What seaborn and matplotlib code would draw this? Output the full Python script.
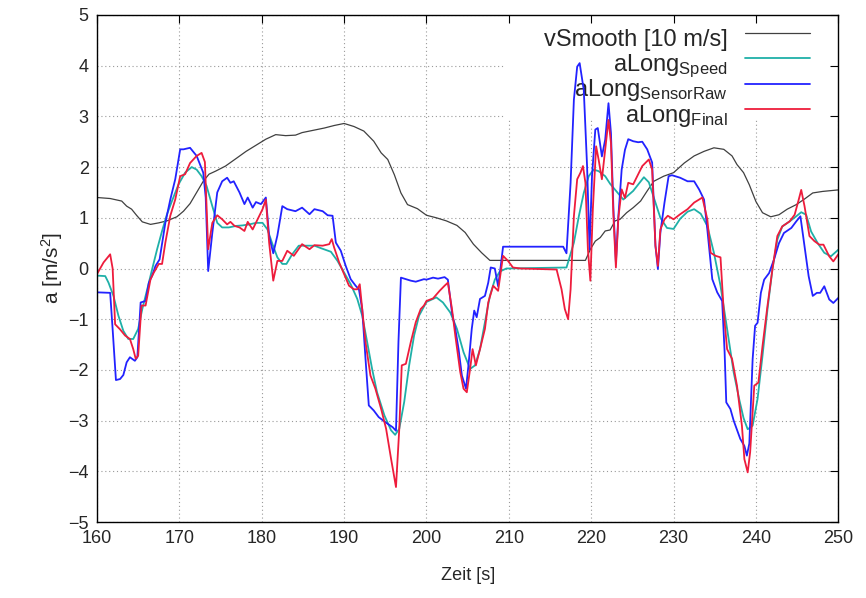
import pandas as pd
import matplotlib
matplotlib.use("Agg")
import matplotlib.pyplot as plt
from matplotlib.patches import Polygon
import seaborn as sns

# ------------- Data -------------
t_vsmooth = [160, 161.6, 163.0, 163.6, 164.2, 164.8, 165.5, 166.5, 167.5, 168.5, 169.7, 170.5,
             171.3, 172.1, 172.9, 173.6, 174.4, 175.6, 176.9, 178.1, 179.3, 180.5, 181.7, 182.9,
             184.1, 184.9, 186.4, 187.6, 188.8, 190.0, 191.2, 192.4, 193.6, 194.5, 195.3, 196.1,
             196.9, 197.7, 198.9, 200.0, 201.2, 202.4, 203.7, 204.7, 205.7, 206.7, 207.7, 219.3,
             219.9, 220.5, 221.1, 221.7, 222.3, 222.9, 223.5, 224.3, 225.1, 226.0, 226.8, 227.6,
             228.8, 230.0, 231.3, 232.5, 233.7, 234.9, 236.1, 237.1, 237.7, 238.5, 239.2, 240.0,
             240.8, 241.8, 242.8, 243.8, 244.9, 245.9, 246.9, 248.1, 250.0]
v_smooth = [1.40, 1.38, 1.33, 1.23, 1.17, 1.05, 0.92, 0.87, 0.90, 0.94, 1.02, 1.13,
            1.28, 1.50, 1.72, 1.86, 1.92, 2.02, 2.17, 2.31, 2.43, 2.55, 2.64, 2.62,
            2.63, 2.68, 2.73, 2.77, 2.82, 2.86, 2.80, 2.71, 2.51, 2.28, 2.15, 1.85,
            1.49, 1.26, 1.18, 1.05, 1.00, 0.94, 0.85, 0.71, 0.48, 0.31, 0.16, 0.16,
            0.38, 0.54, 0.61, 0.74, 0.76, 0.94, 0.97, 1.10, 1.20, 1.33, 1.53, 1.72,
            1.82, 1.89, 2.08, 2.22, 2.31, 2.38, 2.35, 2.22, 2.05, 1.89, 1.65, 1.32,
            1.10, 1.02, 1.06, 1.17, 1.26, 1.37, 1.49, 1.52, 1.55]

t_speed = [160, 161.0, 161.4, 162.0, 162.6, 163.2, 163.8, 164.4, 165.0, 165.5, 166.1, 166.7,
           167.3, 167.9, 168.5, 169.1, 169.9, 170.7, 171.5, 172.1, 172.7, 173.3, 174.0, 174.6,
           175.2, 176.0, 176.9, 177.7, 178.5, 179.3, 180.1, 180.7, 181.3, 181.9, 182.5, 183.0,
           183.7, 184.5, 185.4, 186.4, 187.2, 188.4, 189.2, 190.0, 190.8, 191.6, 192.2, 192.8,
           193.4, 194.0, 194.9, 195.7, 196.2, 196.7, 197.3, 197.9, 198.5, 199.1, 199.7, 200.0,
           201.2, 202.0, 202.9, 203.7, 204.5, 205.3, 205.9, 206.5, 207.1, 207.7, 208.3, 208.9,
           209.7, 217.0, 217.3, 217.9, 218.5, 219.1, 219.7, 220.3, 220.9, 221.7, 222.3, 223.9,
           225.1, 226.4, 227.0, 227.6, 228.4, 229.2, 230.0, 230.8, 231.7, 232.5, 233.3, 234.1,
           234.9, 235.7, 236.5, 237.3, 238.0, 238.5, 239.0, 239.6, 240.2, 240.8, 241.4, 242.0,
           242.6, 243.2, 244.1, 244.9, 245.5, 246.1, 246.7, 247.5, 248.3, 249.1, 250.0]
a_speed = [-0.14, -0.15, -0.28, -0.54, -0.93, -1.23, -1.39, -1.39, -1.19, -0.80, -0.41, -0.01,
           0.38, 0.74, 1.07, 1.33, 1.66, 1.89, 2.00, 1.95, 1.82, 1.63, 1.23, 0.90,
           0.81, 0.81, 0.84, 0.85, 0.87, 0.90, 0.90, 0.77, 0.48, 0.22, 0.09, 0.09,
           0.28, 0.45, 0.45, 0.45, 0.40, 0.33, 0.15, -0.08, -0.31, -0.60, -0.93, -1.45,
           -1.98, -2.44, -2.90, -3.19, -3.28, -3.16, -2.63, -1.91, -1.32, -0.93, -0.75, -0.66,
           -0.57, -0.67, -0.87, -1.19, -1.65, -1.98, -1.91, -1.59, -1.06, -0.54, -0.22, -0.06,
           0.0, 0.02, 0.18, 0.51, 1.03, 1.49, 1.82, 1.95, 1.92, 1.82, 1.67, 1.36,
           1.53, 1.80, 1.70, 1.40, 1.00, 0.80, 0.78, 0.98, 1.12, 1.17, 1.08, 0.84,
           0.31, -0.34, -1.19, -2.05, -2.60, -2.95, -3.17, -3.10, -2.57, -1.72, -0.81, -0.02,
           0.57, 0.83, 0.93, 1.03, 1.11, 1.06, 0.73, 0.50, 0.31, 0.24, 0.37]

t_raw = [160, 161.6, 161.9, 162.3, 162.8, 163.2, 163.6, 164.0, 164.6, 164.9, 165.3, 165.9,
         166.3, 166.7, 167.1, 167.6, 168.3, 168.9, 169.5, 170.1, 170.5, 171.3, 172.1, 172.9,
         173.2, 173.5, 174.0, 174.6, 175.2, 175.8, 176.2, 176.6, 177.3, 177.9, 178.3, 178.9,
         179.3, 179.9, 180.5, 180.9, 181.4, 181.9, 182.5, 183.1, 184.1, 184.9, 185.8, 186.4,
         187.4, 188.0, 188.6, 189.0, 189.6, 190.2, 190.8, 191.4, 191.8, 192.2, 192.6, 193.0,
         193.6, 194.2, 195.0, 195.9, 196.3, 196.6, 196.9, 197.5, 198.1, 198.7, 199.7, 200.0,
         200.8, 201.4, 202.2, 202.6, 203.1, 203.5, 203.9, 204.3, 204.8, 205.1, 205.5, 205.8,
         206.1, 206.5, 207.1, 207.5, 207.8, 208.3, 208.7, 209.0, 209.3, 216.6, 217.0, 217.5,
         217.9, 218.3, 218.6, 219.1, 219.5, 219.8, 220.1, 220.5, 220.8, 221.3, 221.7, 222.1,
         222.4, 222.7, 223.0, 223.3, 223.7, 224.1, 224.5, 225.1, 225.7, 226.2, 226.8, 227.4,
         227.8, 228.1, 228.4, 228.9, 229.4, 229.8, 230.8, 231.7, 232.5, 233.1, 233.7, 234.1,
         234.7, 235.3, 235.9, 236.2, 236.4, 236.9, 237.3, 238.1, 238.6, 238.9, 239.2, 239.6,
         239.9, 240.2, 240.6, 241.0, 241.6, 242.2, 242.8, 243.4, 244.3, 244.9, 245.4, 245.9,
         246.4, 246.9, 247.4, 247.8, 248.3, 248.9, 249.4, 250.0]
a_raw = [-0.47, -0.48, -1.20, -2.20, -2.18, -2.10, -1.85, -1.75, -1.82, -1.75, -0.67, -0.64,
         -0.28, -0.14, 0.05, 0.18, 0.90, 1.36, 1.76, 2.35, 2.35, 2.38, 2.22, 1.89,
         1.40, -0.05, 0.70, 1.50, 1.72, 1.79, 1.69, 1.72, 1.50, 1.27, 1.40, 1.20,
         1.31, 1.27, 1.40, 0.64, 0.30, 0.65, 1.23, 1.17, 1.13, 1.20, 1.07, 1.17,
         1.13, 1.05, 1.04, 0.51, 0.35, 0.05, -0.21, -0.34, -0.41, -0.80, -1.78, -2.70,
         -2.80, -2.93, -3.03, -3.13, -3.20, -1.45, -0.18, -0.21, -0.24, -0.26, -0.21, -0.22,
         -0.18, -0.20, -0.17, -0.22, -0.87, -1.19, -1.59, -2.11, -2.37, -1.91, -1.19, -0.83,
         -0.96, -0.60, -0.54, -0.28, 0.02, 0.00, -0.35, 0.02, 0.43, 0.43, 0.30, 1.69,
         3.33, 3.98, 4.05, 3.52, 2.02, 0.38, 1.82, 2.74, 2.77, 2.21, 2.54, 3.26,
         2.67, 1.17, 0.12, 1.03, 1.95, 2.34, 2.55, 2.51, 2.49, 2.50, 2.35, 2.09,
         0.45, -0.01, 0.71, 1.30, 1.82, 1.84, 1.79, 1.72, 1.72, 1.56, 1.36, 0.77,
         -0.21, -0.47, -0.64, -1.65, -2.64, -2.77, -3.00, -3.36, -3.50, -3.69, -3.45, -1.79,
         -1.13, -1.07, -0.48, -0.22, -0.09, 0.18, 0.50, 0.70, 0.80, 0.93, 1.03, 0.44,
         -0.15, -0.54, -0.48, -0.48, -0.35, -0.61, -0.68, -0.58]

t_final = [160, 160.8, 161.6, 161.9, 162.2, 162.8, 163.4, 164.0, 164.4, 164.7, 165.0, 165.4,
           165.9, 166.5, 166.9, 167.5, 167.9, 168.3, 168.9, 169.5, 170.1, 170.7, 171.3, 172.1,
           172.7, 173.1, 173.5, 174.0, 174.6, 175.2, 175.8, 176.2, 176.7, 177.3, 177.9, 178.3,
           178.9, 179.5, 180.1, 180.5, 180.9, 181.4, 181.9, 182.5, 183.1, 183.9, 184.9, 185.8,
           186.4, 187.4, 188.2, 188.5, 188.8, 189.4, 190.0, 190.6, 191.2, 191.6, 191.9, 192.2,
           192.6, 193.2, 193.8, 194.5, 195.1, 195.7, 196.3, 196.7, 197.0, 197.5, 198.1, 198.7,
           199.3, 199.7, 200.0, 200.8, 201.6, 202.2, 202.6, 203.1, 203.5, 204.1, 204.5, 204.9,
           205.3, 205.6, 206.0, 206.5, 207.1, 207.5, 208.1, 208.7, 209.0, 209.3, 209.9, 210.5,
           211.4, 215.8, 216.4, 216.8, 217.2, 217.5, 217.9, 218.3, 218.7, 219.0, 219.3, 219.6,
           219.9, 220.2, 220.6, 220.9, 221.3, 221.7, 222.1, 222.4, 222.7, 223.0, 223.3, 223.7,
           224.1, 224.5, 225.1, 225.5, 226.2, 227.0, 227.4, 227.8, 228.1, 228.4, 228.9, 229.3,
           230.0, 230.8, 231.7, 232.5, 233.5, 234.1, 234.5, 235.1, 235.7, 236.1, 236.5, 237.1,
           237.7, 238.3, 238.6, 239.0, 239.3, 239.8, 240.3, 240.8, 241.4, 242.0, 242.6, 243.2,
           244.1, 244.7, 245.2, 245.5, 245.9, 246.5, 247.1, 247.7, 248.2, 248.9, 249.4, 250.0]
a_final = [-0.11, 0.12, 0.28, 0.00, -1.10, -1.20, -1.32, -1.39, -1.59, -1.78, -1.72, -0.73,
           -0.73, -0.21, -0.08, 0.09, 0.09, 0.51, 1.04, 1.36, 1.82, 1.86, 2.08, 2.22,
           2.28, 2.10, 0.38, 0.90, 1.05, 0.97, 0.87, 0.92, 0.84, 0.81, 0.74, 0.92,
           0.77, 0.97, 1.17, 1.36, 0.51, -0.24, 0.15, 0.15, 0.35, 0.25, 0.48, 0.38,
           0.46, 0.45, 0.48, 0.58, 0.41, 0.12, -0.11, -0.34, -0.41, -0.41, -0.31, -0.80,
           -1.45, -2.11, -2.37, -2.77, -3.16, -3.75, -4.31, -3.16, -1.91, -1.88, -1.45, -1.06,
           -0.80, -0.73, -0.64, -0.59, -0.44, -0.34, -0.28, -0.80, -1.32, -2.04, -2.37, -2.44,
           -1.98, -1.59, -1.91, -1.59, -1.19, -0.67, -0.34, -0.44, -0.10, 0.25, 0.15, 0.02,
           0.00, -0.02, -0.41, -0.80, -1.00, -0.41, 1.03, 1.76, 1.89, 2.02, 1.69, 0.38,
           -0.24, 1.17, 2.41, 2.15, 1.76, 2.34, 2.93, 2.48, 1.03, 0.02, 1.00, 1.56,
           1.39, 1.69, 1.66, 1.79, 2.02, 2.15, 1.95, 0.45, 0.05, 0.77, 0.97, 1.04,
           0.97, 1.07, 1.17, 1.30, 1.40, 0.97, 0.31, 0.25, 0.22, -0.87, -1.59, -1.78,
           -2.31, -3.10, -3.76, -4.02, -3.62, -2.31, -2.25, -1.53, -0.74, -0.02, 0.64, 0.83,
           0.93, 1.06, 1.36, 1.55, 1.23, 0.64, 0.54, 0.47, 0.47, 0.24, 0.14, 0.28]

series = [
    ("vSmooth [10 m/s]", t_vsmooth, v_smooth, "#404040", 0.9),
    (r"aLong$_{\mathrm{Speed}}$", t_speed, a_speed, "#1fb0a8", 1.3),
    (r"aLong$_{\mathrm{SensorRaw}}$", t_raw, a_raw, "#2222ff", 1.3),
    (r"aLong$_{\mathrm{Final}}$", t_final, a_final, "#ee1c3c", 1.3),
]

# ------------- Plot -------------
sns.set_theme(style="white")
plt.rcParams["font.family"] = ["Liberation Sans", "DejaVu Sans"]
plt.rcParams["mathtext.fontset"] = "custom"
plt.rcParams["mathtext.rm"] = "Liberation Sans"
plt.rcParams["mathtext.it"] = "Liberation Sans:italic"

fig = plt.figure(figsize=(8.66, 5.98), dpi=100)
ax = fig.add_axes([0.112, 0.127, 0.856, 0.848])

for label, t, y, color, lw in series:
    df = pd.DataFrame({"t": t, "y": y})
    sns.lineplot(data=df, x="t", y="y", ax=ax, color=color, linewidth=lw,
                 label=label, estimator=None, sort=False)

ax.set_xlim(160, 250)
ax.set_ylim(-5, 5)
ax.set_xticks(range(160, 251, 10))
ax.set_yticks(range(-5, 6))
ax.grid(True, color="#9a9a9a", linestyle=(0, (1, 2.5)), linewidth=0.8)
ax.tick_params(direction="in", top=True, right=True, length=6, width=0.8,
               labelsize=13, color="black", pad=6)
for s in ax.spines.values():
    s.set_color("black")
    s.set_linewidth(1.0)

ax.set_xlabel("Zeit [s]", fontsize=13, labelpad=14)
ax.set_ylabel("a [m/s$^2$]", fontsize=15, labelpad=2)

# a tall handle box sets every row's height, so the rows get an even pitch
leg = ax.legend(loc="upper right", bbox_to_anchor=(0.9655, 0.994), borderaxespad=0,
                markerfirst=False, frameon=False, fontsize=17, handlelength=2.75,
                handleheight=2.0, labelspacing=-0.48, borderpad=0.1, handletextpad=0.76)
leg.set_zorder(1.8)

# the key area blanks the grid in the reference: clip gridlines to an L-shaped region
fig.canvas.draw()
keep = Polygon([(0, 0), (1, 0), (1, 0.793), (0.55, 0.793), (0.55, 1), (0, 1)],
               closed=True, transform=ax.transAxes, facecolor="none", edgecolor="none")
ax.add_patch(keep)
for gl in ax.get_xgridlines() + ax.get_ygridlines():
    gl.set_clip_path(keep)

plt.savefig("out.png", dpi=100)
print("done")
